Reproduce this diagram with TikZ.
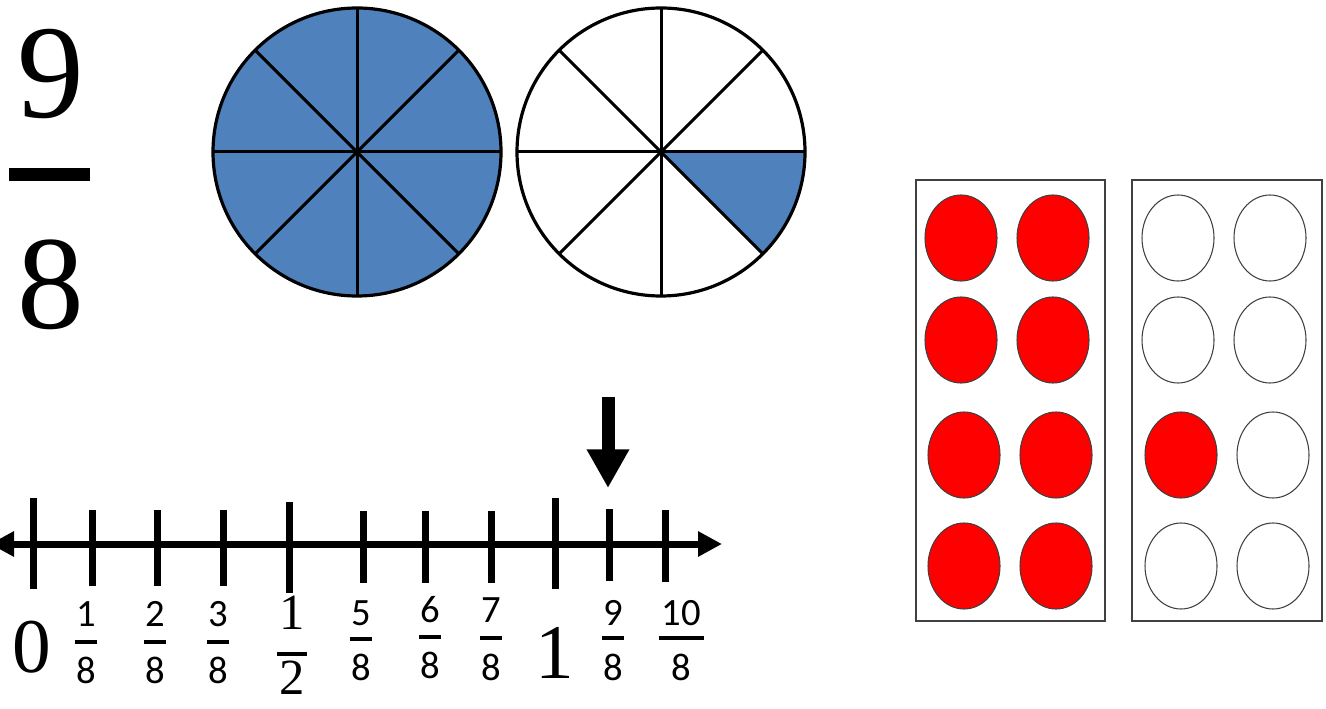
\documentclass[tikz,border=0pt]{standalone}
\usepackage{fontspec}
\setmainfont{Liberation Serif}
\newfontfamily\carl{Carlito}
\usetikzlibrary{arrows.meta,shapes.geometric}
\definecolor{pieblue}{HTML}{4F81BD}
\definecolor{boxgray}{HTML}{404040}
\tikzset{
  numline/.style={line width=5.25pt},
  tickmark/.style={line width=5.25pt},
  spoke/.style={line width=2.25pt},
  pie/.style={circle, draw, line width=2.4pt, inner sep=0pt, outer sep=0pt, minimum size=216pt},
  counter/.style={ellipse, draw=black!75, line width=0.8pt, inner sep=0pt, minimum width=54pt, minimum height=64.5pt},
  redc/.style={counter, fill=red},
  boxframe/.style={draw=boxgray, line width=1.1pt},
  smallnum/.style={font=\carl\fontsize{29}{29}\selectfont, inner sep=0pt, anchor=base},
  bignum/.style={font=\fontsize{58}{58}\selectfont, inner sep=0pt, anchor=base},
  halfnum/.style={font=\fontsize{38}{38}\selectfont, inner sep=0pt, anchor=base},
  hugenum/.style={font=\fontsize{100}{100}\selectfont, inner sep=0pt, anchor=base},
}
\newcommand\myfrac[7]{%
  \node[smallnum] (#1n) at (#2,#3) {#6};
  \fill (#2-#7,#4-2) rectangle (#2+#7,#4+2);
  \node[smallnum] (#1d) at (#2,#5) {8};
}
\begin{document}
\begin{tikzpicture}[x=0.75pt,y=0.75pt]
\useasboundingbox (0,0) rectangle (1326,708);
% big fraction 9/8
\node[hugenum] (nine) at (51,590) {9};
\fill (9,527) rectangle (90,540);
\node[hugenum] (eight) at (51,380) {8};
% left pie, all blue
\node[pie, fill=pieblue] (L) at (357,556) {};
\foreach \a in {0,45,90,135} {
  \pgfmathtruncatemacro\b{\a+180}
  \draw[spoke] (L.\a) -- (L.\b);
}
% right pie, one eighth blue
\coordinate (Rc) at (661,556);
\fill[pieblue] (Rc) -- ++(108pt,0) arc[start angle=0, end angle=-45, radius=108pt] -- cycle;
\node[pie] (R) at (Rc) {};
\foreach \a in {0,45,90,135} {
  \pgfmathtruncatemacro\b{\a+180}
  \draw[spoke] (R.\a) -- (R.\b);
}
% number line
\coordinate (nlL) at (-10,164);
\coordinate (nlR) at (722,164);
\draw[numline, {Triangle[length=18pt,width=18pt]}-{Triangle[length=18pt,width=18pt]}] (nlL) -- (nlR);
\foreach \n/\x/\a/\b in {0/33.5/210/119, 1/92/198/122, 2/157/198/122, 3/223/198/122, 4/289/206/115, 5/363/197/125, 6/425/197/125, 7/491/197/125, 8/555/210/119, 9/609/199/127, 10/665/198/126} {
  \coordinate (ta\n) at (\x,\a);
  \coordinate (tb\n) at (\x,\b);
  \draw[tickmark] (ta\n) -- (tb\n);
}
% pointer arrow
\coordinate (pa) at (608,311);
\coordinate (pb) at (608,220);
\draw[line width=9.75pt, -{Triangle[length=29pt,width=30pt]}] (pa) -- (pb);
% labels
\node[bignum] (zero) at (32,36) {0};
\node[bignum] (one) at (555,30) {1};
\node[halfnum] (halfn) at (292,79) {1};
\fill (277,52) rectangle (307,56);
\node[halfnum] (halfd) at (292,14) {2};
\myfrac{fa}{86}{82}{66}{25}{1}{11}
\myfrac{fb}{155}{82}{66}{25}{2}{11}
\myfrac{fc}{218}{82}{66}{25}{3}{11}
\myfrac{fe}{361}{83}{69}{28}{5}{11}
\myfrac{ff}{430}{86}{71}{30}{6}{11}
\myfrac{fg}{491}{86}{70}{28}{7}{11}
\myfrac{fi}{613}{83}{70}{28}{9}{11}
\myfrac{fj}{681}{83}{70}{28}{10}{22.5}
% ten frames
\draw[boxframe] (916,87) rectangle (1105,528);
\draw[boxframe] (1132,87) rectangle (1322,528);
\node[redc] (a1) at (961,470) {};
\node[redc] (a2) at (1053,470) {};
\node[redc] (a3) at (961,368) {};
\node[redc] (a4) at (1053,368) {};
\node[redc] (a5) at (964,253) {};
\node[redc] (a6) at (1056,253) {};
\node[redc] (a7) at (964,142) {};
\node[redc] (a8) at (1056,142) {};
\node[counter] (b1) at (1178,470) {};
\node[counter] (b2) at (1270,470) {};
\node[counter] (b3) at (1178,368) {};
\node[counter] (b4) at (1270,368) {};
\node[redc] (b5) at (1181,253) {};
\node[counter] (b6) at (1273,253) {};
\node[counter] (b7) at (1181,142) {};
\node[counter] (b8) at (1273,142) {};
\end{tikzpicture}
\end{document}
